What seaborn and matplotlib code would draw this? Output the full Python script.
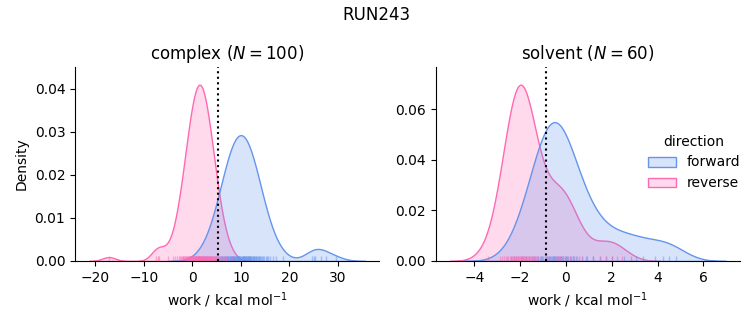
import matplotlib
matplotlib.use("Agg")
import matplotlib.pyplot as plt
import numpy as np
import pandas as pd
import seaborn as sns

run_title = "RUN243"
phases = ["complex", "solvent"]
directions = ["forward", "reverse"]
palette = {"forward": "cornflowerblue", "reverse": "hotpink"}
xlabel = "work / kcal mol$^{-1}$"

complex_forward = [
    1.35, 2.74, 3.41, 3.93, 4.36, 4.60, 4.91, 5.21, 5.45, 5.68,
    5.87, 6.03, 6.23, 6.34, 6.54, 6.68, 6.81, 6.95, 7.08, 7.21,
    7.34, 7.46, 7.56, 7.72, 7.82, 7.93, 8.04, 8.14, 8.22, 8.32,
    8.39, 8.50, 8.60, 8.69, 8.79, 8.90, 9.03, 9.09, 9.17, 9.25,
    9.37, 9.44, 9.55, 9.60, 9.73, 9.80, 9.92, 10.08, 10.20, 10.26,
    10.39, 10.46, 10.59, 10.67, 10.75, 10.87, 10.93, 11.01, 11.12, 11.24,
    11.30, 11.43, 11.52, 11.60, 11.72, 11.80, 11.92, 12.00, 12.07, 12.19,
    12.28, 12.44, 12.56, 12.66, 12.81, 12.92, 13.04, 13.20, 13.32, 13.47,
    13.69, 13.79, 13.97, 14.13, 14.36, 14.52, 14.80, 15.11, 15.40, 15.69,
    16.05, 16.59, 17.29, 18.67, 24.60, 25.10, 25.30, 26.50, 27.50, 29.60,
]
complex_reverse = [
    -17.2, -7.41, -7.02, -6.81, -5.10, -4.05, -3.51, -3.12, -2.83, -2.58,
    -2.34, -2.16, -1.98, -1.83, -1.67, -1.54, -1.42, -1.29, -1.16, -1.05,
    -0.95, -0.85, -0.74, -0.64, -0.54, -0.46, -0.38, -0.28, -0.20, -0.13,
    -0.02, 0.06, 0.13, 0.21, 0.29, 0.34, 0.42, 0.49, 0.57, 0.65,
    0.70, 0.78, 0.86, 0.93, 0.98, 1.06, 1.14, 1.19, 1.27, 1.32,
    1.40, 1.47, 1.53, 1.60, 1.68, 1.73, 1.81, 1.86, 1.94, 2.02,
    2.07, 2.14, 2.22, 2.30, 2.35, 2.43, 2.51, 2.58, 2.66, 2.71,
    2.79, 2.87, 2.94, 3.02, 3.13, 3.20, 3.28, 3.38, 3.46, 3.54,
    3.64, 3.74, 3.85, 3.95, 4.05, 4.16, 4.29, 4.42, 4.54, 4.67,
    4.83, 4.98, 5.16, 5.34, 5.58, 5.83, 6.12, 6.51, 7.05, 8.10,
]
solvent_forward = [
    -2.25, -1.91, -1.73, -1.60, -1.50, -1.41, -1.33, -1.26, -1.20, -1.14,
    -1.08, -1.03, -0.98, -0.93, -0.88, -0.84, -0.79, -0.75, -0.71, -0.67,
    -0.63, -0.58, -0.54, -0.50, -0.46, -0.42, -0.38, -0.34, -0.29, -0.25,
    -0.20, -0.16, -0.11, -0.06, -0.01, 0.04, 0.10, 0.16, 0.22, 0.29,
    0.37, 0.46, 0.57, 0.70, 0.88, 1.20, 0.90, 1.20, 1.50, 1.75,
    2.00, 2.25, 2.55, 2.85, 3.05, 3.35, 3.90, 4.25, 4.50, 4.80,
]
solvent_reverse = [
    -3.40, -2.90, -2.78, -2.69, -2.62, -2.56, -2.51, -2.46, -2.42, -2.38,
    -2.34, -2.30, -2.27, -2.23, -2.20, -2.17, -2.14, -2.11, -2.08, -2.05,
    -2.02, -1.98, -1.95, -1.92, -1.89, -1.86, -1.83, -1.80, -1.77, -1.73,
    -1.70, -1.66, -1.62, -1.58, -1.54, -1.49, -1.44, -1.38, -1.31, -1.22,
    -1.10, -0.87, -0.72, -0.58, -0.48, -0.40, -0.34, -0.28, -0.20, -0.12,
    -0.04, 0.06, 0.16, 0.30, 0.48, 0.72, 1.50, 1.75, 2.00, 2.45,
]
free_energy = {"complex": 5.35, "solvent": -0.85}

series = {
    ("complex", "forward"): complex_forward,
    ("complex", "reverse"): complex_reverse,
    ("solvent", "forward"): solvent_forward,
    ("solvent", "reverse"): solvent_reverse,
}
frames = []
for (phase, direction), values in series.items():
    frames.append(pd.DataFrame({"phase": phase, "direction": direction, "work": values}))
df = pd.concat(frames, ignore_index=True)

g = sns.displot(
    data=df, x="work", hue="direction", col="phase", kind="kde",
    fill=True, rug=True, rug_kws={"alpha": 0.5}, palette=palette,
    hue_order=directions, col_order=phases,
    facet_kws=dict(sharex=False, sharey=False), height=3, aspect=1,
)
g.set_axis_labels(xlabel, "Density")
for ax, phase in zip(g.axes.flat, phases):
    n = len(series[(phase, "forward")])
    ax.set_title(f"{phase} ($N={n}$)")
    ax.axvline(free_energy[phase], color="k", ls=":", lw=1.5)
    ax.margins(y=0.1)

fig = g.figure
fig.set_size_inches(7.53, 3.25)
fig.subplots_adjust(left=75 / 753, right=740 / 753, bottom=64 / 325,
                    top=258 / 325, wspace=56 / 304)
fig.suptitle(run_title)
sns.move_legend(g, "center right", bbox_to_anchor=(1.0, 0.5), frameon=False)
fig.savefig("out.png", dpi=100)
